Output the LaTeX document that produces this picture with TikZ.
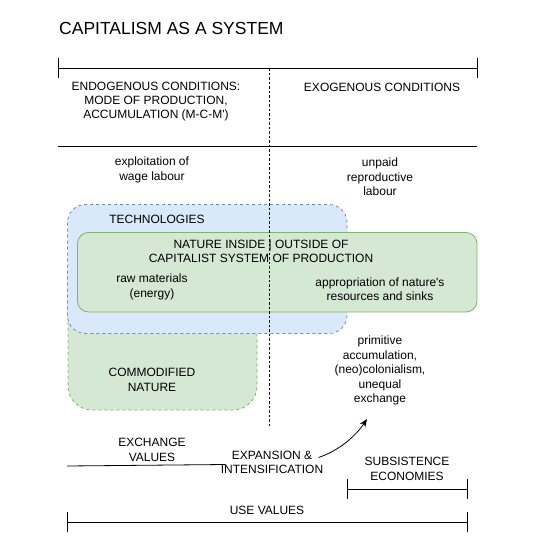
\documentclass[tikz,border=0pt]{standalone}
\usepackage{fontspec}
\setmainfont{Liberation Sans}[Ligatures=TeXOff]
\usetikzlibrary{arrows.meta}
\definecolor{bluefill}{HTML}{DAE8FC}
\definecolor{bluedraw}{HTML}{6C8EBF}
\definecolor{greenfill}{HTML}{D5E8D4}
\definecolor{greendraw}{HTML}{82B366}
\tikzset{
  lbl/.style={align=center,inner sep=0pt,font=\fontsize{12}{14.4}\selectfont},
  rule/.style={line width=0.8pt,black},
  dotline/.style={line width=0.8pt,black,dash pattern=on 2.5pt off 2pt},
  bluebox/.style={fill=bluefill,draw=bluedraw,line width=0.8pt,dash pattern=on 3pt off 3pt},
  commbox/.style={fill=greenfill,draw=greendraw,line width=0.8pt,dash pattern=on 3pt off 3pt},
  naturebox/.style={fill=greenfill,draw=greendraw,line width=0.8pt},
}
\begin{document}
\begin{tikzpicture}[x=1pt,y=-1pt]
\useasboundingbox[fill=white] (0,0) rectangle (560,560);

% title
\node[lbl,anchor=west,font=\fontsize{17.5}{21}\selectfont] (title) at (59,28) {CAPITALISM AS A SYSTEM};

% top bracket
\coordinate (tl) at (58,68); \coordinate (tr) at (477,68);
\draw[rule] (tl) -- (tr);
\draw[rule] ([yshift=-10pt]tl) -- ([yshift=10pt]tl);
\draw[rule] ([yshift=-10pt]tr) -- ([yshift=10pt]tr);

\node[lbl] (endo) at (156,101.5) {ENDOGENOUS CONDITIONS:\\MODE OF PRODUCTION,\\ACCUMULATION (M-C-M')};
\node[lbl] (exo) at (382,87.5) {EXOGENOUS CONDITIONS};

% separator
\coordinate (hl) at (58,146.5); \coordinate (hr) at (477,146.5);
\draw[rule] (hl) -- (hr);

\node[lbl] (expl) at (152,170) {exploitation of\\wage labour};
\node[lbl] (unpaid) at (380,177) {unpaid\\reproductive\\labour};

% boxes
\draw[commbox,rounded corners=24pt] (68,250) rectangle (257,410);
\draw[bluebox,rounded corners=18pt] (67.5,204.5) rectangle (347,333.5);
\node[lbl] (tech) at (157,219.5) {TECHNOLOGIES};
\draw[naturebox,rounded corners=11pt] (77.5,232.5) rectangle (477,312);

\node[lbl] (nature) at (261,251.5) {NATURE INSIDE | OUTSIDE OF\\CAPITALIST SYSTEM OF PRODUCTION};
\node[lbl] (raw) at (152,287) {raw materials\\(energy)};
\node[lbl] (approp) at (380,289) {appropriation of nature's\\resources and sinks};
\node[lbl] (comm) at (152,380) {COMMODIFIED\\NATURE};
\node[lbl] (prim) at (380,370.5) {primitive\\accumulation,\\(neo)colonialism,\\unequal\\exchange};

% vertical dotted divider
\coordinate (vt) at (269.3,68); \coordinate (vb) at (269.3,426);
\draw[dotline] (vt) -- (vb);

% exchange values / expansion
\node[lbl] (exch) at (152,450) {EXCHANGE\\VALUES};
\node[lbl] (expan) at (272,462.5) {EXPANSION \&\\INTENSIFICATION};
\coordinate (exs) at (67,466);
\coordinate (exin) at (225.5,464.5);
\coordinate (exout) at (318.5,457.5);
\coordinate (arrtip) at (367,419);
\draw[rule] (exs) -- (exin);
\draw[rule,-{Stealth[length=8pt,width=6.5pt]}] (exout) .. controls (338,451) and (355,437) .. (arrtip);

% subsistence bracket
\node[lbl] (subs) at (407,469) {SUBSISTENCE\\ECONOMIES};
\coordinate (sl) at (347.3,489.3); \coordinate (sr) at (467.3,489.3);
\draw[rule] (sl) -- (sr);
\draw[rule] ([yshift=-10pt]sl) -- ([yshift=10pt]sl);
\draw[rule] ([yshift=-10pt]sr) -- ([yshift=10pt]sr);

% use values bracket
\node[lbl] (use) at (267,510) {USE VALUES};
\coordinate (ul) at (67.3,522.3); \coordinate (ur) at (467.3,522.3);
\draw[rule] (ul) -- (ur);
\draw[rule] ([yshift=-10pt]ul) -- ([yshift=10pt]ul);
\draw[rule] ([yshift=-10pt]ur) -- ([yshift=10pt]ur);
\end{tikzpicture}
\end{document}
